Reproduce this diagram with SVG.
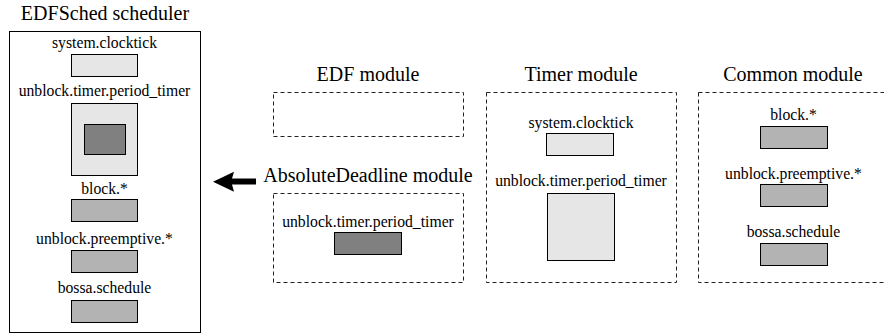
<svg xmlns="http://www.w3.org/2000/svg" width="884" height="333" viewBox="0 0 884 333" font-family="'Liberation Serif', 'DejaVu Serif', serif">
<style>
text{fill:#000;text-anchor:middle}
.t{font-size:20px}
.l{font-size:15.7px}
.light{fill:#e6e6e6;stroke:#000;stroke-width:1}
.mid{fill:#b3b3b3;stroke:#000;stroke-width:1}
.dark{fill:#808080;stroke:#000;stroke-width:1}
.mod{fill:none;stroke:#222;stroke-width:1;stroke-dasharray:4,3}
</style>
<rect width="884" height="333" fill="#fff"/>
<g id="edfsched">
<text class="t" x="105" y="20">EDFSched scheduler</text>
<rect x="9.5" y="31.5" width="191" height="301" fill="#fff" stroke="#000"/>
<text class="l" x="104.5" y="48">system.clocktick</text>
<rect class="light" x="71.5" y="54.5" width="66" height="22"/>
<text class="l" x="104.5" y="96">unblock.timer.period_timer</text>
<rect class="light" x="71.5" y="103.5" width="66" height="72"/>
<rect class="dark" x="84.5" y="124.5" width="41" height="30"/>
<text class="l" x="104.5" y="194">block.*</text>
<rect class="mid" x="71.5" y="199.5" width="66" height="22"/>
<text class="l" x="104.5" y="244">unblock.preemptive.*</text>
<rect class="mid" x="71.5" y="250.5" width="66" height="22"/>
<text class="l" x="104.5" y="293">bossa.schedule</text>
<rect class="mid" x="71.5" y="300.5" width="66" height="22"/>
</g>
<g id="edf-module">
<text class="t" x="368" y="81">EDF module</text>
<rect class="mod" x="273.5" y="92.5" width="190" height="44"/>
</g>
<g id="absdeadline-module">
<text class="t" x="368" y="182">AbsoluteDeadline module</text>
<rect class="mod" x="273.5" y="193.5" width="190" height="89"/>
<text class="l" x="368" y="227">unblock.timer.period_timer</text>
<rect class="dark" x="334.5" y="232.5" width="67" height="22"/>
</g>
<g id="timer-module">
<text class="t" x="581" y="81">Timer module</text>
<rect class="mod" x="486.5" y="92.5" width="190" height="190"/>
<text class="l" x="581" y="128">system.clocktick</text>
<rect class="light" x="546.5" y="133.5" width="67" height="22"/>
<text class="l" x="581" y="186">unblock.timer.period_timer</text>
<rect class="light" x="547.5" y="193.5" width="67" height="67"/>
</g>
<g id="common-module">
<text class="t" x="793" y="81">Common module</text>
<rect class="mod" x="698.5" y="92.5" width="190" height="190"/>
<text class="l" x="793.5" y="120">block.*</text>
<rect class="mid" x="760.5" y="126.5" width="67" height="22"/>
<text class="l" x="793.5" y="179">unblock.preemptive.*</text>
<rect class="mid" x="760.5" y="184.5" width="67" height="22"/>
<text class="l" x="793.5" y="237">bossa.schedule</text>
<rect class="mid" x="760.5" y="243.5" width="67" height="22"/>
</g>
<g id="connectors">
<path d="M213,181.7 L234,171.7 L232,178.5 L256,178.5 L256,184.5 L232,184.5 L234,191.7 Z" fill="#000"/>
</g>
</svg>
